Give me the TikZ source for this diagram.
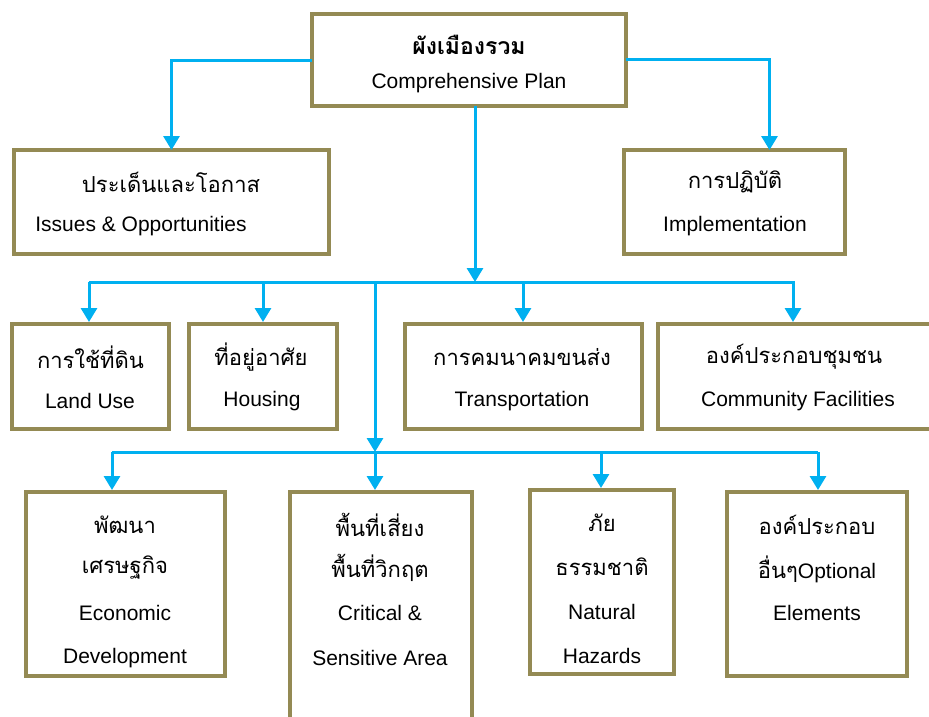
\documentclass[tikz,border=0pt]{standalone}
\usepackage{fontspec}
\setmainfont{Liberation Sans}
\newfontfamily\thai[Script=Thai]{Loma}
\usetikzlibrary{arrows.meta}
\definecolor{boxc}{RGB}{148,138,84}
\definecolor{linec}{RGB}{0,176,240}
\begin{document}
\begin{tikzpicture}[x=1pt,y=-1pt,
  box/.style={draw=boxc,line width=4pt,fill=white,inner sep=0pt,outer sep=0pt},
  conn/.style={draw=linec,line width=3pt,-{Triangle[width=16pt,length=14pt]}},
  bus/.style={draw=linec,line width=3pt},
  en/.style={font=\fontsize{21}{24}\selectfont,inner sep=0pt},
  th/.style={font=\thai\fontsize{22}{24}\selectfont,inner sep=0pt}]
\useasboundingbox (0,0) rectangle (929,716);
\clip (0,0) rectangle (929,716);
\fill[white] (0,0) rectangle (929,716);
% boxes
\node[box,minimum width=314pt,minimum height=92pt] (top) at (469,60) {};
\node[box,minimum width=315pt,minimum height=104pt] (issues) at (171.5,202) {};
\node[box,minimum width=221pt,minimum height=104pt] (impl) at (734.5,202) {};
\node[box,minimum width=157pt,minimum height=105pt] (landuse) at (90.5,376.5) {};
\node[box,minimum width=148pt,minimum height=105pt] (housing) at (263,376.5) {};
\node[box,minimum width=237pt,minimum height=105pt] (transport) at (523.5,376.5) {};
\node[box,minimum width=274pt,minimum height=105pt] (community) at (795,376.5) {};
\node[box,minimum width=199pt,minimum height=184pt] (econ) at (125.5,584) {};
\node[box,minimum width=182pt,minimum height=240pt] (crit) at (381,612) {};
\node[box,minimum width=144pt,minimum height=184pt] (nat) at (602,581.5) {};
\node[box,minimum width=180pt,minimum height=184pt] (opt) at (817,584) {};
% texts
\node[th,font=\thai\bfseries\fontsize{23}{24}\selectfont] (t1) at (469,45) {ผังเมืองรวม};
\node[en] (t2) at (469,83) {Comprehensive Plan};
\node[th] (i1) at (171,182) {ประเด็นและโอกาส};
\node[en] (i2) at (141,226) {Issues \& Opportunities};
\node[th] (m1) at (735,182) {การปฏิบัติ};
\node[en] (m2) at (735,226) {Implementation};
\node[th] (l1) at (90.5,357) {การใช้ที่ดิน};
\node[en] (l2) at (90,401) {Land Use};
\node[th] (h1) at (261,357) {ที่อยู่อาศัย};
\node[en] (h2) at (262,401) {Housing};
\node[th] (r1) at (522,357) {การคมนาคมขนส่ง};
\node[en] (r2) at (522,401) {Transportation};
\node[th] (c1) at (794,357) {องค์ประกอบชุมชน};
\node[en] (c2) at (798,401) {Community Facilities};
\node[th] (e1) at (125,525) {พัฒนา};
\node[th] (e2) at (125,568) {เศรษฐกิจ};
\node[en] (e3) at (125,613) {Economic};
\node[en] (e4) at (125,658) {Development};
\node[th] (k1) at (380,525) {พื้นที่เสี่ยง};
\node[th] (k2) at (380,568) {พื้นที่วิกฤต};
\node[en] (k3) at (380,613) {Critical \&};
\node[en] (k4) at (380,658) {Sensitive Area};
\node[th] (n1) at (602,523) {ภัย};
\node[th] (n2) at (602,567) {ธรรมชาติ};
\node[en] (n3) at (602,612) {Natural};
\node[en] (n4) at (602,656) {Hazards};
\node[th] (o1) at (817,525) {องค์ประกอบ};
\node[en] (o2) at (817,569) {{\thai\fontsize{22}{24}\selectfont อื่นๆ}Optional};
\node[en] (o3) at (817,613) {Elements};
% connectors
\coordinate (busA) at (475,282);
\coordinate (busB) at (375,452);
\draw[conn] (top.west) -| (issues.north);
\draw[conn] ([yshift=1pt]top.east) -| ([xshift=35pt]impl.north);
\draw[conn] ([xshift=6pt]top.south) -- (busA);
\draw[bus] (89,282) -- (795,282);
\draw[conn] (89,282) -- (89,322);
\draw[conn] (263,282) -- (263,322);
\draw[conn] (523,282) -- (523,322);
\draw[conn] (793,282) -- (793,322);
\draw[bus] (112,452) -- (818,452);
\draw[conn] (375,282) -- (busB);
\draw[conn] (112,452) -- (112,490);
\draw[conn] (375,452) -- (375,490);
\draw[conn] (601,452) -- (601,488);
\draw[conn] (818,452) -- (818,490);
\end{tikzpicture}
\end{document}
